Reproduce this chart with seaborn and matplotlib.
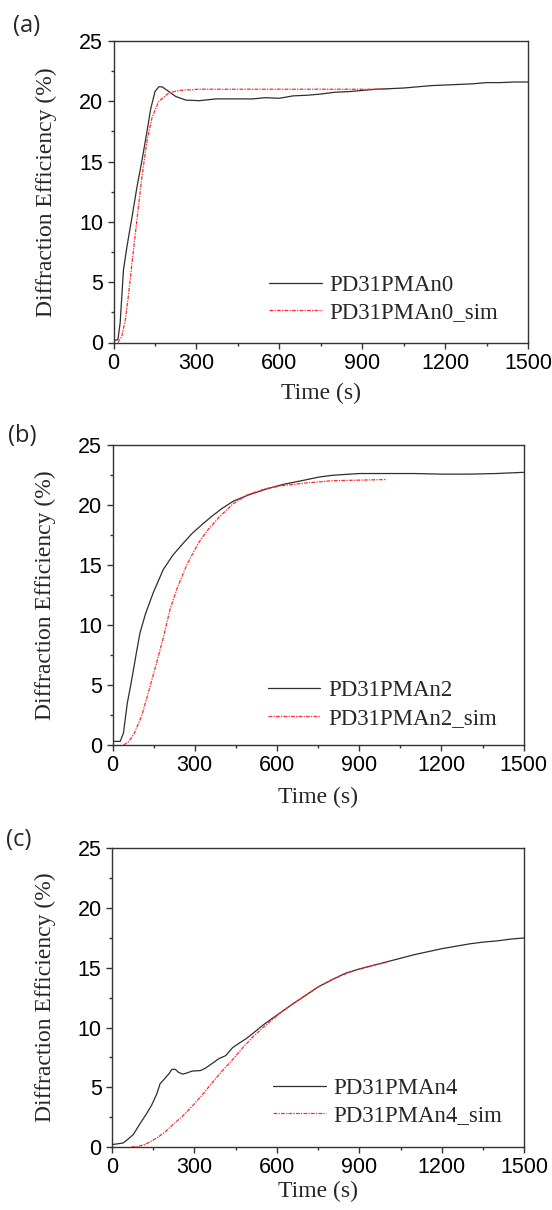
import matplotlib
matplotlib.use("Agg")
import matplotlib.pyplot as plt
import seaborn as sns
import pandas as pd
from matplotlib.ticker import MultipleLocator

# ---- data (time in s, diffraction efficiency in %) ----
# (a) PD31PMAn0
t_a = [0, 10, 16, 24, 36, 49, 67, 85, 103, 122, 134, 150, 164, 176, 201, 225, 262, 310,
       371, 432, 505, 550, 600, 650, 700, 750, 800, 850, 900, 950, 1000, 1050, 1100,
       1150, 1200, 1250, 1300, 1350, 1400, 1450, 1500]
de_a = [0.2, 0.2, 0.25, 1.6, 6.0, 8.0, 10.4, 12.9, 15.1, 17.6, 19.3, 20.8, 21.2, 21.2, 20.8,
        20.4, 20.1, 20.05, 20.2, 20.2, 20.2, 20.3, 20.25, 20.45, 20.5, 20.6, 20.75, 20.8,
        20.9, 21.0, 21.05, 21.1, 21.2, 21.3, 21.35, 21.4, 21.45, 21.55, 21.55, 21.6, 21.6]
t_a_sim = [16, 30, 43, 55, 67, 85, 103, 122, 140, 164, 201, 237, 310, 400, 500, 600, 700,
           800, 900, 1000]
de_a_sim = [0.0, 0.5, 1.9, 4.1, 6.6, 10.2, 13.8, 16.8, 18.7, 20.0, 20.7, 20.9, 21.0, 21.0,
            21.0, 21.0, 21.0, 21.0, 21.0, 21.0]

# (b) PD31PMAn2
t_b = [0, 28, 40, 54, 65, 76, 88, 100, 120, 149, 185, 220, 258, 290, 319, 360, 400, 441,
       494, 560, 623, 700, 752, 800, 900, 1000, 1100, 1200, 1300, 1400, 1500]
de_b = [0.3, 0.3, 1.0, 3.5, 4.8, 6.2, 7.8, 9.3, 10.9, 12.7, 14.6, 15.8, 16.8, 17.6, 18.2,
        19.0, 19.7, 20.3, 20.8, 21.3, 21.7, 22.05, 22.3, 22.45, 22.6, 22.6, 22.6, 22.55,
        22.55, 22.6, 22.7]
t_b_sim = [41, 60, 80, 106, 130, 158, 185, 210, 235, 271, 313, 344, 390, 441, 494, 560, 623,
           700, 800, 900, 1000]
de_b_sim = [0.0, 0.3, 1.0, 2.4, 4.3, 6.6, 8.9, 11.3, 13.0, 15.0, 16.8, 17.8, 19.0, 20.1,
            20.85, 21.35, 21.6, 21.8, 22.0, 22.05, 22.1]

# (c) PD31PMAn4
t_c = [0, 40, 53, 77, 102, 126, 144, 163, 175, 187, 206, 218, 230, 242, 257, 273, 291, 322,
       340, 365, 389, 414, 438, 463, 487, 512, 549, 585, 610, 659, 708, 750, 800, 850, 900,
       950, 1000, 1050, 1100, 1150, 1200, 1250, 1300, 1350, 1400, 1450, 1500]
de_c = [0.2, 0.33, 0.56, 1.03, 1.95, 2.8, 3.5, 4.45, 5.3, 5.6, 6.1, 6.5, 6.5, 6.25, 6.1, 6.2,
        6.35, 6.4, 6.6, 7.0, 7.4, 7.65, 8.3, 8.7, 9.05, 9.5, 10.2, 10.8, 11.2, 12.0, 12.75,
        13.4, 14.0, 14.55, 14.9, 15.2, 15.5, 15.8, 16.1, 16.35, 16.6, 16.8, 17.0, 17.15,
        17.25, 17.4, 17.5]
t_c_sim = [71, 96, 120, 144, 169, 193, 218, 255, 291, 328, 365, 402, 438, 475, 512, 549, 585,
           622, 659, 708, 750, 800, 850, 900, 950, 1000]
de_c_sim = [0.0, 0.05, 0.22, 0.5, 0.85, 1.25, 1.8, 2.55, 3.4, 4.35, 5.4, 6.4, 7.3, 8.3,
            9.2, 10.0, 10.7, 11.4, 12.0, 12.75, 13.4, 14.0, 14.5, 14.9, 15.2, 15.45]

panels = [
    ("(a)", "PD31PMAn0", t_a, de_a, t_a_sim, de_a_sim),
    ("(b)", "PD31PMAn2", t_b, de_b, t_b_sim, de_b_sim),
    ("(c)", "PD31PMAn4", t_c, de_c, t_c_sim, de_c_sim),
]

sns.set_style("ticks")
plt.rcParams['font.family'] = ['Liberation Sans', 'DejaVu Sans']

W, H = 552, 1210
fig = plt.figure(figsize=(W / 100, H / 100), dpi=100)

# axes boxes in pixels: left, top, right, bottom
boxes = [(113.5, 41, 528, 342.5), (112.5, 444.7, 523.7, 745), (112, 848.3, 524.4, 1147)]
leg_pos = [(0.375, 0.145), (0.377, 0.135), (0.39, 0.15)]
lab_pos = [(13, 26), (8, 436), (6, 840)]
xlab_y = [-0.135, -0.138, -0.115]

spine_col = "#333333"
for (tag, name, t, de, ts, ds), (l, tp, r, b), lp, pp, xly in zip(panels, boxes, leg_pos,
                                                                  lab_pos, xlab_y):
    ax = fig.add_axes([l / W, 1 - b / H, (r - l) / W, (b - tp) / H])
    df = pd.DataFrame({"Time": t, "DE": de})
    dfs = pd.DataFrame({"Time": ts, "DE": ds})
    sns.lineplot(data=df, x="Time", y="DE", ax=ax, color="#2e2e2e", lw=0.9,
                 estimator=None, sort=False, label=name)
    sns.lineplot(data=dfs, x="Time", y="DE", ax=ax, color="#ff2a2a", lw=0.9,
                 linestyle=(0, (3, 1, 1, 1)), estimator=None, sort=False, label=name + "_sim")
    ax.set_xlim(0, 1500)
    ax.set_ylim(0, 25)
    ax.xaxis.set_major_locator(MultipleLocator(300))
    ax.xaxis.set_minor_locator(MultipleLocator(150))
    ax.yaxis.set_major_locator(MultipleLocator(5))
    ax.yaxis.set_minor_locator(MultipleLocator(2.5))
    ax.tick_params(which="both", direction="out", colors=spine_col, labelcolor="black",
                   labelsize=15.5, pad=3, width=1.0)
    ax.tick_params(which="major", length=4.5)
    ax.tick_params(which="minor", length=2.5)
    for s in ax.spines.values():
        s.set_color(spine_col)
        s.set_linewidth(1.0)
    ax.set_xlabel("Time (s)", family="Liberation Serif", fontsize=17)
    ax.set_ylabel("Diffraction Efficiency (%)", family="Liberation Serif", fontsize=17)
    ax.yaxis.set_label_coords(-0.137, 0.5)
    ax.xaxis.set_label_coords(0.5, xly)
    ax.legend(loc="center left", bbox_to_anchor=lp, frameon=False, borderpad=0,
              borderaxespad=0, handlelength=2.3, handletextpad=0.35, labelspacing=0.28,
              prop={"family": "Liberation Serif", "size": 16.5})
    fig.text(pp[0] / W, 1 - pp[1] / H, tag, family="Open Sans", fontsize=17,
             ha="left", va="center")

fig.savefig("out.png", dpi=100)
